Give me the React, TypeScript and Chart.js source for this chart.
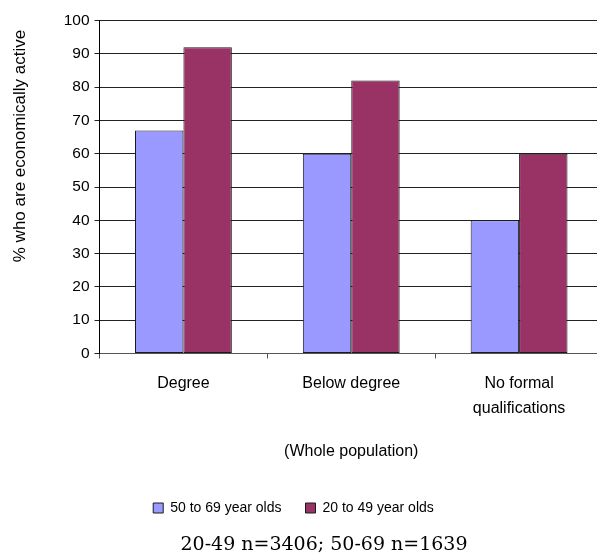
import React, { useEffect, useRef } from "react";
import { Chart, registerables } from "chart.js";

Chart.register(...registerables);

const categories: (string | string[])[] = ["Degree", "Below degree", ["No formal", "qualifications"]];
const olderLabel = "50 to 69 year olds";
const youngerLabel = "20 to 49 year olds";
const olderValues = [67, 60, 40];
const youngerValues = [92, 82, 60];
const yTitle = "% who are economically active";
const xTitle = "(Whole population)";
const footerText = "20-49 n=3406; 50-69 n=1639";

const yTitlePlugin = {
  id: "yTitlePlugin",
  afterDraw(chart: any) {
    const ctx = chart.ctx;
    ctx.save();
    ctx.translate(20, 146);
    ctx.rotate(-Math.PI / 2);
    ctx.textAlign = "center";
    ctx.textBaseline = "middle";
    ctx.fillStyle = "#000";
    ctx.font = "17px 'Liberation Sans', Arial, sans-serif";
    ctx.fillText(yTitle, 0, 0);
    ctx.restore();
  },
};

export default function App() {
  const ref = useRef<HTMLCanvasElement | null>(null);

  useEffect(() => {
    if (!ref.current) return;
    const chart = new Chart(ref.current, {
      type: "bar",
      data: {
        labels: categories,
        datasets: [
          {
            label: olderLabel,
            data: olderValues,
            backgroundColor: "#9999FF",
            borderColor: "#1a1a1a",
            borderWidth: 1,
            borderSkipped: false,
          },
          {
            label: youngerLabel,
            data: youngerValues,
            backgroundColor: "#993366",
            borderColor: "#1a1a1a",
            borderWidth: 1,
            borderSkipped: false,
          },
        ],
      },
      plugins: [yTitlePlugin],
      options: {
        responsive: false,
        animation: false,
        devicePixelRatio: 1,
        layout: { padding: { left: -16, right: 17, top: 20.5, bottom: 28 } },
        datasets: { bar: { categoryPercentage: 0.577, barPercentage: 1 } },
        plugins: {
          tooltip: { enabled: false },
          title: { display: false },
          legend: {
            position: "bottom",
            labels: {
              boxWidth: 10,
              boxHeight: 10,
              padding: 24,
              color: "#000",
              font: { family: "'Liberation Sans', Arial, sans-serif", size: 14 },
            },
          },
        },
        scales: {
          x: {
            offset: true,
            grid: {
              offset: true,
              drawOnChartArea: false,
              drawTicks: true,
              tickLength: 5,
              color: "#555",
            },
            border: { display: true, color: "#555", width: 1 },
            ticks: {
              padding: 12.5,
              color: "#000",
              maxRotation: 0,
              autoSkip: false,
              font: { family: "'Liberation Sans', Arial, sans-serif", size: 16, lineHeight: 25 / 16 },
            },
            title: {
              display: true,
              text: xTitle,
              color: "#000",
              font: { family: "'Liberation Sans', Arial, sans-serif", size: 16, lineHeight: 1.2 },
              padding: { top: 8.9, bottom: 15.4 },
            },
          },
          y: {
            min: 0,
            max: 100,
            afterFit: (scale: any) => {
              scale.width = 115.5;
            },
            grid: {
              color: "#222",
              lineWidth: 1,
              drawTicks: true,
              tickLength: 5,
            },
            border: { display: true, color: "#000", width: 1 },
            ticks: {
              stepSize: 10,
              padding: 5,
              color: "#000",
              font: { family: "'Liberation Sans', Arial, sans-serif", size: 15.5 },
            },
            title: { display: false },
          },
        },
      },
    });
    return () => chart.destroy();
  }, []);

  return (
    <div
      style={{
        position: "fixed",
        left: 0,
        top: 0,
        width: 597,
        height: 553,
        overflow: "hidden",
        background: "#fff",
      }}
    >
      <canvas ref={ref} width={620} height={553} style={{ display: "block", width: 620, height: 553 }} />
      <div
        style={{
          position: "absolute",
          left: 324,
          top: 543,
          transform: "translate(-50%, -50%)",
          whiteSpace: "nowrap",
          fontFamily: "'DejaVu Serif', serif",
          fontSize: 19,
          lineHeight: "22px",
          color: "#000",
        }}
      >
        {footerText}
      </div>
    </div>
  );
}
